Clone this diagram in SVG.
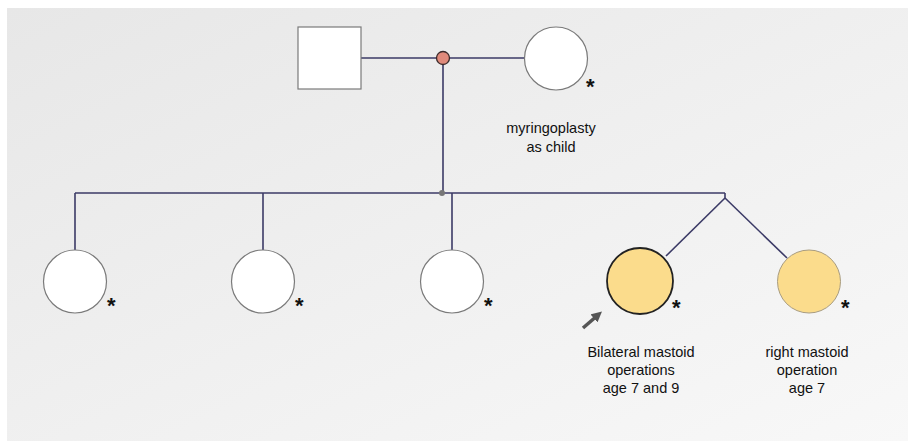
<svg xmlns="http://www.w3.org/2000/svg" width="908" height="441" viewBox="0 0 908 441">
  <defs>
    <linearGradient id="bg" x1="0" y1="0" x2="1" y2="1">
      <stop offset="0" stop-color="#e7e7e7"/>
      <stop offset="1" stop-color="#f8f8f8"/>
    </linearGradient>
    <marker id="arrowHead" viewBox="0 0 10 10" refX="5" refY="5" markerWidth="3" markerHeight="3" orient="auto">
      <path d="M0,0 L10,5 L0,10 z" fill="#555"/>
    </marker>
  </defs>
  <style>
    .line { stroke: #3b3a66; stroke-width: 1.6; fill: none; }
    .person { fill: #ffffff; stroke: #7a7a7a; stroke-width: 1.2; }
    .affected { fill: #fbdc8c; stroke: #a89c80; stroke-width: 1; }
    .proband { fill: #fbdc8c; stroke: #222; stroke-width: 1.8; }
    .star { font-family: "Liberation Sans", Arial, sans-serif; font-size: 22px; font-weight: bold; fill: #111; }
    .label { font-family: "Liberation Sans", Arial, sans-serif; font-size: 14.5px; fill: #111; text-anchor: middle; }
  </style>

  <rect x="0" y="0" width="908" height="441" fill="#ffffff"/>
  <rect x="7" y="8" width="901" height="433" fill="url(#bg)"/>

  <!-- connectors -->
  <g id="connectors">
    <line class="line" x1="361" y1="58" x2="524" y2="58"/>
    <line class="line" x1="443" y1="58" x2="443" y2="193"/>
    <line class="line" x1="75" y1="193" x2="725" y2="193"/>
    <line class="line" x1="75" y1="193" x2="75" y2="250"/>
    <line class="line" x1="263" y1="193" x2="263" y2="250"/>
    <line class="line" x1="452" y1="193" x2="452" y2="250"/>
    <line class="line" x1="725" y1="193" x2="725" y2="198"/>
    <line class="line" x1="725" y1="198" x2="666" y2="256"/>
    <line class="line" x1="725" y1="198" x2="787" y2="258"/>
    <circle cx="443" cy="58" r="6.5" fill="#e08a7b" stroke="#3a2a2a" stroke-width="1.3"/>
    <circle cx="442" cy="193" r="3" fill="#777"/>
  </g>

  <g id="father">
    <rect class="person" x="298" y="27" width="63" height="62"/>
  </g>

  <g id="mother">
    <circle class="person" cx="556" cy="58.5" r="31.5"/>
    <text class="star" x="586" y="94">*</text>
    <text class="label" x="551" y="133">myringoplasty</text>
    <text class="label" x="551" y="152">as child</text>
  </g>

  <g id="child1">
    <circle class="person" cx="75" cy="281.5" r="31.5"/>
    <text class="star" x="107" y="313">*</text>
  </g>

  <g id="child2">
    <circle class="person" cx="263" cy="281.5" r="31.5"/>
    <text class="star" x="295" y="313">*</text>
  </g>

  <g id="child3">
    <circle class="person" cx="452" cy="281.5" r="31.5"/>
    <text class="star" x="484" y="313">*</text>
  </g>

  <g id="proband">
    <circle class="proband" cx="640" cy="281" r="33"/>
    <text class="star" x="672" y="315">*</text>
    <line x1="583" y1="328" x2="598" y2="315" stroke="#555" stroke-width="3.5" marker-end="url(#arrowHead)"/>
    <text class="label" x="641" y="357">Bilateral mastoid</text>
    <text class="label" x="641" y="375">operations</text>
    <text class="label" x="641" y="393">age 7 and 9</text>
  </g>

  <g id="twin">
    <circle class="affected" cx="809" cy="281.5" r="31.5"/>
    <text class="star" x="841" y="315">*</text>
    <text class="label" x="807" y="357">right mastoid</text>
    <text class="label" x="807" y="375">operation</text>
    <text class="label" x="807" y="393">age 7</text>
  </g>
</svg>
